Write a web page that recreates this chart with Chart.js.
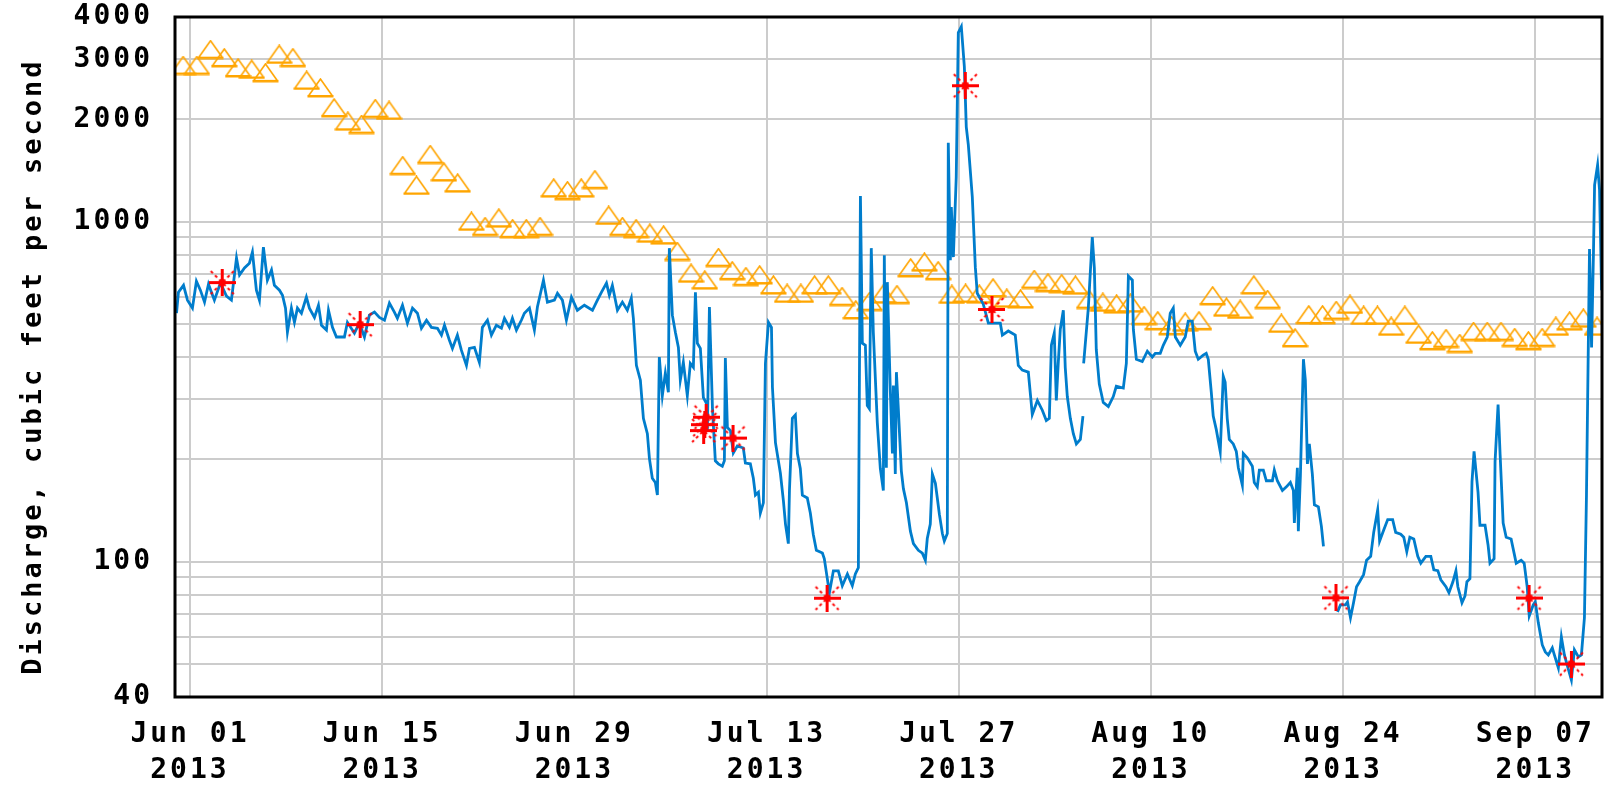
<!DOCTYPE html>
<html>
<head>
<meta charset="utf-8">
<title>Discharge, cubic feet per second</title>
<script src="https://cdn.jsdelivr.net/npm/chart.js@4/dist/chart.umd.min.js"></script>
<style>
  html, body { margin: 0; padding: 0; background: #fff; }
  #chart { display: block; }
</style>
</head>
<body>
<canvas id="chart" width="1609" height="787"></canvas>
<script>
// x positions are days since Jun 01 2013 00:00
const X_MIN = -1.09;
const X_MAX = 102.86;

const xTickDays = [0, 14, 28, 42, 56, 70, 84, 98];
const xTickLabels = [
  ["Jun 01", "2013"], ["Jun 15", "2013"], ["Jun 29", "2013"], ["Jul 13", "2013"],
  ["Jul 27", "2013"], ["Aug 10", "2013"], ["Aug 24", "2013"], ["Sep 07", "2013"],
];

const yGridValues = [40, 50, 60, 70, 80, 90, 100, 200, 300, 400, 500, 600, 700, 800, 900, 1000, 2000, 3000, 4000];
const yLabelValues = [40, 100, 1000, 2000, 3000, 4000];

// discharge (15-minute record), null = gap in record
const flowDays = [
  -0.98, -0.84, -0.47, -0.18, 0.18, 0.47, 0.76, 1.06, 1.35, 1.78, 2.22, 2.66, 3.02, 3.39, 3.61, 3.97,
  4.33, 4.55, 4.84, 5.06, 5.35, 5.64, 5.94, 6.15, 6.52, 6.74, 6.96, 7.10, 7.39, 7.61, 7.83, 8.12,
  8.48, 8.70, 9.07, 9.36, 9.58, 9.94, 10.09, 10.38, 10.67, 11.25, 11.47, 11.98, 12.34, 12.71, 13.07, 13.44,
  13.80, 14.17, 14.53, 14.89, 15.11, 15.48, 15.84, 16.21, 16.57, 16.86, 17.23, 17.59, 18.03, 18.32, 18.54, 18.90,
  19.12, 19.48, 19.77, 20.14, 20.36, 20.72, 21.08, 21.30, 21.67, 21.96, 22.32, 22.69, 22.91, 23.27, 23.49, 23.78,
  24.14, 24.36, 24.73, 25.09, 25.31, 25.75, 26.04, 26.55, 26.77, 27.13, 27.42, 27.79, 28.22, 28.73, 29.32, 29.68,
  29.97, 30.34, 30.55, 30.77, 31.14, 31.50, 31.86, 32.15, 32.30, 32.52, 32.81, 33.03, 33.32, 33.47, 33.68, 33.90,
  34.05, 34.19, 34.41, 34.63, 34.85, 34.92, 35.14, 35.36, 35.58, 35.72, 35.94, 36.23, 36.45, 36.67, 36.82, 36.96,
  37.18, 37.40, 37.62, 37.69, 37.84, 38.06, 38.27, 38.49, 38.78, 38.93, 39.00, 39.15, 39.37, 39.58, 39.87, 40.31,
  40.46, 40.82, 41.04, 41.19, 41.41, 41.55, 41.77, 41.92, 42.14, 42.36, 42.43, 42.65, 43.01, 43.23, 43.38, 43.59,
  43.67, 43.88, 44.10, 44.25, 44.46, 44.61, 44.97, 45.19, 45.41, 45.63, 46.07, 46.21, 46.43, 46.58, 46.87, 47.23,
  47.52, 47.89, 48.25, 48.47, 48.69, 48.84, 48.98, 49.20, 49.34, 49.49, 49.63, 49.78, 50.07, 50.29, 50.51, 50.58,
  50.73, 50.80, 51.02, 51.17, 51.24, 51.38, 51.46, 51.60, 51.82, 51.97, 52.19, 52.48, 52.70, 53.06, 53.35, 53.57,
  53.71, 53.93, 54.08, 54.30, 54.44, 54.59, 54.81, 54.95, 55.17, 55.24, 55.39, 55.46, 55.61, 55.82, 55.97, 56.19,
  56.41, 56.55, 56.70, 56.99, 57.21, 57.35, 57.79, 58.16, 59.03, 59.18, 59.61, 60.12, 60.34, 60.63, 61.07, 61.36,
  61.73, 62.09, 62.38, 62.60, 62.75, 62.96, 63.11, 63.25, 63.40, 63.62, 63.76, 63.91, 64.13, 64.35, 64.57, 64.86,
  65.05, 65.07, 65.10, 65.44, 65.73, 65.88, 66.02, 66.24, 66.53, 66.90, 67.26, 67.48, 67.99, 68.21, 68.36, 68.65,
  68.72, 68.94, 69.37, 69.74, 70.10, 70.32, 70.68, 70.90, 71.19, 71.41, 71.63, 71.78, 72.14, 72.50, 72.72, 73.01,
  73.23, 73.45, 73.81, 74.03, 74.18, 74.40, 74.54, 74.76, 75.05, 75.27, 75.41, 75.56, 75.71, 76.00, 76.22, 76.37,
  76.66, 76.73, 77.02, 77.39, 77.53, 77.75, 77.90, 78.19, 78.41, 78.85, 78.99, 79.21, 79.58, 79.87, 80.16, 80.38,
  80.45, 80.67, 80.74, 80.89, 81.11, 81.25, 81.40, 81.54, 81.76, 81.91, 82.20, 82.42, 82.57, 83.00, 83.59, 83.81,
  84.17, 84.32, 84.54, 84.76, 84.98, 85.20, 85.49, 85.71, 86.01, 86.23, 86.52, 86.66, 86.96, 87.25, 87.61, 87.83,
  88.20, 88.42, 88.64, 88.86, 89.15, 89.44, 89.66, 90.03, 90.39, 90.61, 90.90, 91.12, 91.49, 91.71, 92.00, 92.22,
  92.36, 92.66, 92.88, 93.02, 93.24, 93.39, 93.54, 93.83, 93.97, 94.34, 94.56, 94.70, 95.00, 95.07, 95.29, 95.44,
  95.66, 95.88, 96.24, 96.46, 96.61, 96.97, 97.19, 97.41, 97.56, 97.85, 98.00, 98.22, 98.51, 98.73, 98.95, 99.24,
  99.39, 99.68, 99.90, 100.12, 100.34, 100.63, 100.85, 101.14, 101.36, 101.58, 101.73, 101.95, 102.10, 102.24, 102.32, 102.54,
  102.68, 102.83,
];
const flowCfs = [
  538, 620, 650, 588, 557, 668, 629, 580, 655, 588, 660, 604, 588, 782, 697, 731,
  755, 814, 629, 588, 842, 673, 721, 650, 629, 608, 557, 473, 557, 506, 557, 538,
  600, 557, 523, 568, 496, 480, 549, 489, 458, 458, 506, 470, 503, 458, 531, 542,
  523, 513, 576, 542, 520, 568, 503, 557, 538, 486, 513, 489, 486, 464, 496, 448,
  424, 464, 419, 378, 424, 427, 386, 489, 513, 464, 496, 486, 520, 489, 520, 480,
  513, 538, 557, 480, 561, 673, 580, 588, 616, 588, 513, 600, 549, 568, 549, 588,
  620, 660, 608, 650, 549, 580, 549, 596, 520, 378, 342, 264, 238, 201, 176, 171,
  157, 400, 308, 359, 315, 836, 531, 473, 427, 342, 386, 308, 383, 373, 620, 439,
  424, 304, 292, 243, 561, 284, 198, 194, 191, 198, 397, 248, 243, 209, 219, 216,
  195, 194, 176, 157, 160, 139, 149, 383, 506, 489, 326, 224, 182, 151, 129, 113,
  162, 264, 270, 208, 188, 157, 154, 139, 120, 108, 106, 102, 89, 81, 94, 94,
  85, 92, 85, 92, 96, 1190, 439, 433, 288, 282, 836, 473, 256, 188, 162, 797,
  189, 664, 315, 208, 330, 181, 361, 282, 185, 164, 149, 123, 113, 108, 106, 101,
  117, 129, 181, 170, 154, 138, 121, 115, 121, 1706, 771, 1105, 787, 1354, 3598, 3747,
  2857, 1901, 1683, 1182, 735, 616, 572, 503, 503, 464, 477, 464, 378, 366, 361, 271,
  298, 279, 260, 264, 433, 470, 298, 383, 483, 549, 373, 306, 264, 238, 222, 229,
  268, null, 383, 557, 901, 731, 421, 333, 294, 286, 306, 328, 324, 383, 692, 673,
  483, 394, 388, 416, 400, 410, 410, 433, 458, 538, 557, 458, 433, 458, 510, 510,
  416, 394, 405, 410, 394, 315, 268, 245, 211, 351, 337, 264, 229, 222, 211, 189,
  168, 208, 202, 191, 171, 166, 186, 186, 173, 173, 186, 173, 162, 166, 171, 162,
  130, 189, 123, 179, 394, 342, 194, 222, 181, 147, 145, 127, 111, null, 71.2, 74.6,
  74.6, 76.2, 68.4, 75.7, 84.4, 87.3, 91.6, 101, 103.7, 122, 142, 115, 124, 133, 133, 122,
  120.5, 118, 107, 118, 116.6, 103.7, 99, 103.7, 103.7, 94.7, 94.1, 88.5, 84.4, 81, 87.3, 94.1,
  84.4, 75.7, 79.3, 87.3, 89.1, 172, 211, 160, 128, 128, 112, 99, 102, 197, 290, 206,
  130, 118, 116.6, 105.8, 99, 101, 99, 84.4, 69.3, 74.6, 76.2, 66.1, 56.9, 54.3, 53.2, 55.8,
  53.2, 48.7, 60.1, 53.2, 49.4, 44.9, 55.1, 52.5, 53.2, 68.4, 158, 831, 427, 819, 1282, 1469,
  1240, 629,
];

// daily median discharge, one value per day from May 31 (plotted at noon)
const medianFirstDay = -0.5;
const medianCfs = [
  2880, 2880, 3206, 3032, 2832, 2804, 2740, 3103, 3035, 2603, 2474, 2160, 1974, 1930, 2150, 2124,
  1461, 1278, 1575, 1399, 1298, 1002, 967, 1024, 953, 953, 967, 1255, 1233, 1255, 1329, 1043,
  967, 953, 924, 913, 817, 705, 673, 784, 717, 689, 697, 651, 615, 615, 651, 651,
  602, 550, 582, 612, 610, 731, 760, 717, 611, 615, 612, 638, 595, 592, 676, 661,
  657, 650, 590, 579, 572, 576, 529, 511, 494, 506, 511, 605, 560, 552, 651, 590,
  502, 455, 532, 532, 548, 571, 530, 530, 492, 530, 466, 446, 453, 438, 475, 475,
  475, 456, 446, 456, 492, 510, 520, 492,
];

// field measurements
const measureDays = [2.35, 12.40, 37.42, 37.50, 37.60, 39.56, 46.41, 56.48, 58.42, 83.48, 97.55, 100.63];
const measureCfs = [662, 498, 243, 253, 266, 231, 78.1, 2512, 552, 78.3, 78.2, 50.0];

const FLOW_COLOR = "rgb(0, 125, 204)";
const MEDIAN_COLOR = "rgb(255, 165, 0)";
const MEASURE_COLOR = "rgb(255, 0, 0)";
const FONT = { family: "'DejaVu Sans Mono', monospace", weight: "bold", size: 28, lineHeight: 36 / 28 };

function makeTriangle() {
  const c = document.createElement("canvas");
  c.width = 27;
  c.height = 20;
  const g = c.getContext("2d");
  g.strokeStyle = MEDIAN_COLOR;
  g.lineWidth = 1.6;
  g.beginPath();
  g.moveTo(1.5, 18);
  g.lineTo(13.5, 1);
  g.lineTo(25.5, 18);
  g.stroke();
  g.fillStyle = MEDIAN_COLOR;
  g.fillRect(0.5, 17, 26, 2.5);
  return c;
}

function makeStar() {
  const c = document.createElement("canvas");
  c.width = 27;
  c.height = 27;
  const g = c.getContext("2d");
  g.fillStyle = MEASURE_COLOR;
  g.fillRect(0, 12, 27, 3);
  g.fillRect(12, 0, 3, 27);
  g.strokeStyle = MEASURE_COLOR;
  g.lineWidth = 2;
  g.setLineDash([3, 3]);
  g.beginPath();
  g.moveTo(2, 2);
  g.lineTo(25, 25);
  g.moveTo(25, 2);
  g.lineTo(2, 25);
  g.stroke();
  return c;
}

// letter spacing + black frame round the plot area
const framePlugin = {
  id: "frame",
  beforeLayout(chart) {
    chart.ctx.letterSpacing = "3px";
  },
  beforeDraw(chart) {
    const ctx = chart.ctx;
    ctx.letterSpacing = "3px";
    ctx.save();
    ctx.fillStyle = "#fff";
    ctx.fillRect(0, 0, chart.width, chart.height);
    ctx.restore();
  },
  afterDatasetsDraw(chart) {
    const { ctx, chartArea: a } = chart;
    ctx.save();
    ctx.strokeStyle = "#000";
    ctx.lineWidth = 3;
    ctx.strokeRect(a.left, a.top, a.right - a.left, a.bottom - a.top);
    ctx.restore();
  },
};

const ctx = document.getElementById("chart").getContext("2d");

new Chart(ctx, {
  type: "line",
  data: {
    datasets: [
      {
        label: "Field measurement",
        data: measureDays.map((d, i) => ({ x: d, y: measureCfs[i] })),
        showLine: false,
        pointStyle: makeStar(),
        pointRadius: 5,
        order: 0,
      },
      {
        label: "Discharge",
        data: flowDays.map((d, i) => ({ x: d, y: flowCfs[i] })),
        borderColor: FLOW_COLOR,
        borderWidth: 2.8,
        pointRadius: 0,
        tension: 0,
        spanGaps: false,
        order: 1,
      },
      {
        label: "Median daily statistic",
        data: medianCfs.map((v, i) => ({ x: medianFirstDay + i, y: v })),
        showLine: false,
        pointStyle: makeTriangle(),
        pointRadius: 5,
        order: 2,
      },
    ],
  },
  options: {
    responsive: false,
    animation: false,
    devicePixelRatio: 1,
    layout: { padding: { top: 17, right: 7, bottom: 0, left: 0 } },
    plugins: {
      legend: { display: false },
      tooltip: { enabled: false },
    },
    scales: {
      x: {
        type: "linear",
        min: X_MIN,
        max: X_MAX,
        afterBuildTicks: (scale) => {
          scale.ticks = xTickDays.map((v) => ({ value: v }));
        },
        afterFit: (scale) => {
          scale.height = 90;
          scale.paddingLeft = 0;
          scale.paddingRight = 0;
        },
        grid: { color: "#cccccc", lineWidth: 2, drawTicks: false },
        border: { display: false },
        ticks: {
          autoSkip: false,
          maxRotation: 0,
          padding: 20,
          color: "#000",
          font: FONT,
          callback: (value, index) => xTickLabels[index],
        },
      },
      y: {
        type: "logarithmic",
        min: 40,
        max: 4000,
        afterBuildTicks: (scale) => {
          scale.ticks = yGridValues.map((v) => ({ value: v }));
        },
        afterFit: (scale) => {
          scale.width = 175;
          scale.paddingTop = 0;
          scale.paddingBottom = 0;
        },
        grid: { color: "#cccccc", lineWidth: 2, drawTicks: false },
        border: { display: false },
        ticks: {
          autoSkip: false,
          padding: 22,
          color: "#000",
          font: FONT,
          callback: (value) => (yLabelValues.includes(value) ? String(value) : ""),
        },
        title: {
          display: true,
          text: "Discharge, cubic feet per second ",
          color: "#000",
          font: { ...FONT, size: 27, lineHeight: 1.2 },
          padding: { top: 18, bottom: 0 },
        },
      },
    },
  },
  plugins: [framePlugin],
});
</script>
</body>
</html>
